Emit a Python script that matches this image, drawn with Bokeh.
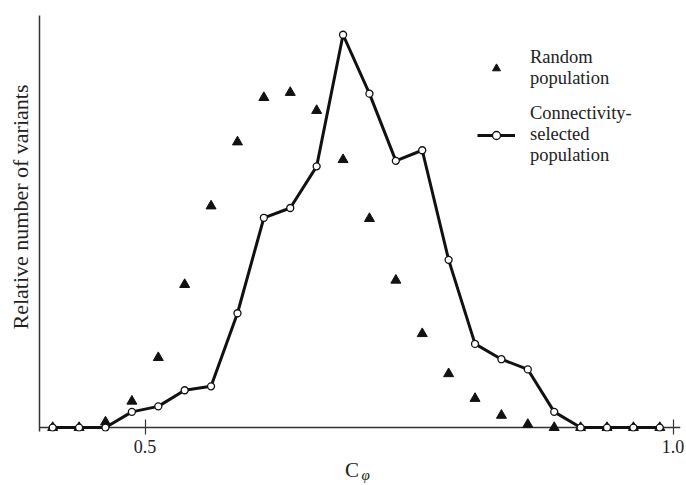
from bokeh.plotting import figure
from bokeh.models import Span, Legend, LegendItem, FixedTicker, ColumnDataSource, LinearAxis
from bokeh.embed import file_html
from bokeh.resources import INLINE

# ---- data ----
c_phi = [0.4125, 0.4375, 0.4625, 0.4875, 0.5125, 0.5375, 0.5625, 0.5875,
         0.6125, 0.6375, 0.6625, 0.6875, 0.7125, 0.7375, 0.7625, 0.7875,
         0.8125, 0.8375, 0.8625, 0.8875, 0.9125, 0.9375, 0.9625, 0.9875]
random_population = [0, 0, 1.4, 6.7, 17.8, 36.4, 56.4, 72.7,
                     84.0, 85.3, 80.7, 68.2, 53.2, 37.5, 23.9, 13.7,
                     7.4, 3.1, 0.8, 0, 0, 0, 0, 0]
selected_population = [0, 0, 0, 4.0, 5.4, 9.5, 10.5, 29.1,
                       53.4, 55.9, 66.5, 100.0, 85.0, 67.9, 70.6, 42.7,
                       21.3, 17.4, 14.8, 4.0, 0, 0, 0, 0]
tick_values = [0.5, 1.0]
tick_labels = ["0.5", "1.0"]
label_random = "Random\npopulation"
label_selected = "Connectivity-\nselected\npopulation"
x_title_main = "C"
x_title_sub = "φ"
y_title = "Relative number of variants"

SERIF = "Liberation Serif"
INK = "#111111"
AXIS = "#333333"
TXT = "#222222"
NBSP = "\u00a0"

src = ColumnDataSource(dict(x=c_phi, r=random_population, s=selected_population))

p = figure(width=686, height=485, x_range=(0.4, 1.0071), y_range=(-1.0, 104.9),
           min_border_left=39, min_border_right=6, min_border_top=15, min_border_bottom=53,
           output_backend="svg", toolbar_location=None, background_fill_color="white",
           border_fill_color="white")
p.outline_line_color = None
p.grid.visible = False

# baseline (x axis line at zero)
p.add_layout(Span(location=0, dimension="width", line_color=AXIS, line_width=1.5, level="underlay"))

tri = p.scatter("x", "r", source=src, marker="triangle", size=10,
                fill_color=INK, line_color=INK)
ln = p.line("x", "s", source=src, line_color=INK, line_width=3)
circ = p.scatter("x", "s", source=src, marker="circle", size=7,
                 fill_color="white", line_color=INK, line_width=1.3)

# x axis
xa = p.xaxis[0]
xa.axis_line_color = None
xa.ticker = FixedTicker(ticks=tick_values)
xa.major_label_overrides = {v: t for v, t in zip(tick_values, tick_labels)}
xa.major_tick_in = 12
xa.major_tick_out = 3
xa.minor_tick_in = 0
xa.minor_tick_out = 0
xa.major_tick_line_color = AXIS
xa.major_tick_line_width = 1.2
xa.major_label_text_font = SERIF
xa.major_label_text_font_size = "18px"
xa.major_label_text_color = TXT
xa.major_label_standoff = 5
xa.axis_label = x_title_main + NBSP * 3
xa.axis_label_text_font = SERIF
xa.axis_label_text_font_size = "21px"
xa.axis_label_text_font_style = "normal"
xa.axis_label_text_color = TXT
xa.axis_label_standoff = 2

# second (label-only) axis carrying the subscript
xa2 = LinearAxis(ticker=FixedTicker(ticks=[]), axis_line_color=None,
                 major_tick_in=0, major_tick_out=0, minor_tick_in=0, minor_tick_out=0,
                 major_label_text_font_size="0px",
                 axis_label=NBSP * 3 + x_title_sub, axis_label_text_font=SERIF,
                 axis_label_text_font_size="15px", axis_label_text_font_style="italic",
                 axis_label_text_color=TXT, axis_label_standoff=-18)
p.add_layout(xa2, "below")

# y axis
ya = p.yaxis[0]
ya.ticker = FixedTicker(ticks=[])
ya.axis_line_color = AXIS
ya.axis_line_width = 1.5
ya.major_tick_out = 0
ya.major_tick_in = 0
ya.minor_tick_in = 0
ya.minor_tick_out = 0
ya.major_label_text_font_size = "0px"
ya.axis_label = NBSP * 6 + y_title
ya.axis_label_text_font = SERIF
ya.axis_label_text_font_size = "22px"
ya.axis_label_text_font_style = "normal"
ya.axis_label_text_color = TXT
ya.axis_label_standoff = 7

legend = Legend(items=[LegendItem(label=label_random, renderers=[tri]),
                       LegendItem(label=label_selected, renderers=[ln, circ])],
                location=(438, 265), padding=0, margin=0, spacing=14,
                glyph_width=38, glyph_height=20, label_standoff=15,
                label_text_font=SERIF, label_text_font_size="18.5px",
                label_text_color=TXT, label_text_line_height=0.88,
                border_line_color=None, background_fill_alpha=0)
p.add_layout(legend)

open("out.html", "w").write(file_html(p, INLINE))
